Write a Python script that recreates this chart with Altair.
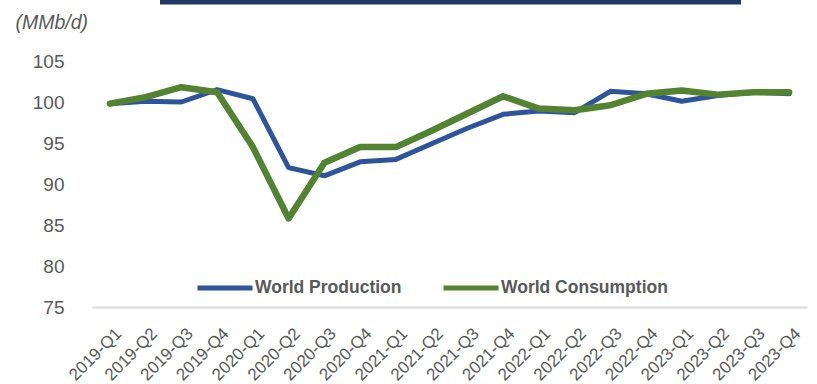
import altair as alt
import pandas as pd

quarters = ["2019-Q1", "2019-Q2", "2019-Q3", "2019-Q4",
            "2020-Q1", "2020-Q2", "2020-Q3", "2020-Q4",
            "2021-Q1", "2021-Q2", "2021-Q3", "2021-Q4",
            "2022-Q1", "2022-Q2", "2022-Q3", "2022-Q4",
            "2023-Q1", "2023-Q2", "2023-Q3", "2023-Q4"]
production = [99.8, 100.1, 100.0, 101.5, 100.4, 92.0, 91.0, 92.7, 93.0, 94.9,
              96.8, 98.5, 98.9, 98.7, 101.3, 101.0, 100.1, 100.8, 101.2, 101.0]
consumption = [99.8, 100.6, 101.8, 101.2, 94.5, 85.8, 92.6, 94.5, 94.5, 96.5,
               98.6, 100.7, 99.2, 99.0, 99.6, 101.0, 101.4, 100.9, 101.2, 101.2]
series_names = ["World Production", "World Consumption"]
series_colors = ["#2F5597", "#548235"]
series_widths = [5, 6.5]
y_ticks = [75, 80, 85, 90, 95, 100, 105]

rows = []
for name, vals in zip(series_names, [production, consumption]):
    for q, v in zip(quarters, vals):
        rows.append({"quarter": q, "value": v, "series": name})
df = pd.DataFrame(rows)

FONT = "Liberation Sans, Arial"
GREY = "#595959"

x_enc = alt.X("quarter:N", sort=quarters,
              scale=alt.Scale(type="point", padding=0.5),
              axis=alt.Axis(title=None, labelAngle=-45, labelAlign="right",
                            labelBaseline="top", labelPadding=18, labelOffset=3,
                            labelFont=FONT, labelFontSize=17, labelColor=GREY,
                            ticks=False, domain=True, domainColor="#D9D9D9",
                            domainWidth=2, grid=False))
y_enc = alt.Y("value:Q", scale=alt.Scale(domain=[75, 105], nice=False, zero=False),
              axis=alt.Axis(title="(MMb/d)", titleAngle=0, titleAlign="left",
                            titleBaseline="alphabetic", titleX=-77, titleY=-33,
                            titleFont=FONT, titleFontSize=19.5, titleFontStyle="italic",
                            titleFontWeight="normal", titleColor=GREY,
                            values=y_ticks, labelFont=FONT, labelFontSize=19,
                            labelColor=GREY, labelPadding=28, ticks=False,
                            domain=False, domainOpacity=0, grid=False))
color_enc = alt.Color("series:N", sort=series_names,
                      scale=alt.Scale(domain=series_names, range=series_colors),
                      legend=alt.Legend(title=None, orient="none", legendX=103,
                                        legendY=197, direction="horizontal",
                                        symbolType="stroke", symbolSize=3025,
                                        symbolStrokeWidth=5, labelFont=FONT,
                                        labelFontSize=17.5, labelFontWeight="bold",
                                        labelColor=GREY, labelOffset=0,
                                        labelLimit=400, columnPadding=31, padding=0))

layers = []
for name, w in zip(series_names, series_widths):
    layers.append(
        alt.Chart(df).transform_filter(alt.datum.series == name)
        .mark_line(strokeCap="round", strokeJoin="round", strokeWidth=w)
        .encode(x=x_enc, y=y_enc, color=color_enc)
    )

top_bar = alt.Chart(pd.DataFrame({"k": [0]})).mark_rule(
    color="#203864", strokeWidth=5
).encode(x=alt.value(68), x2=alt.value(649), y=alt.value(-59))

chart = alt.layer(*layers, top_bar).properties(
    width=715, height=246, background="white",
    autosize=alt.AutoSizeParams(type="none"),
    padding={"left": 92, "top": 61, "right": 10, "bottom": 77},
).configure_view(strokeWidth=0, stroke="transparent", fill="transparent"
).configure_axisY(domain=False, domainOpacity=0, grid=False)

chart.save("out.html", embed_options={"renderer": "svg", "actions": False})
